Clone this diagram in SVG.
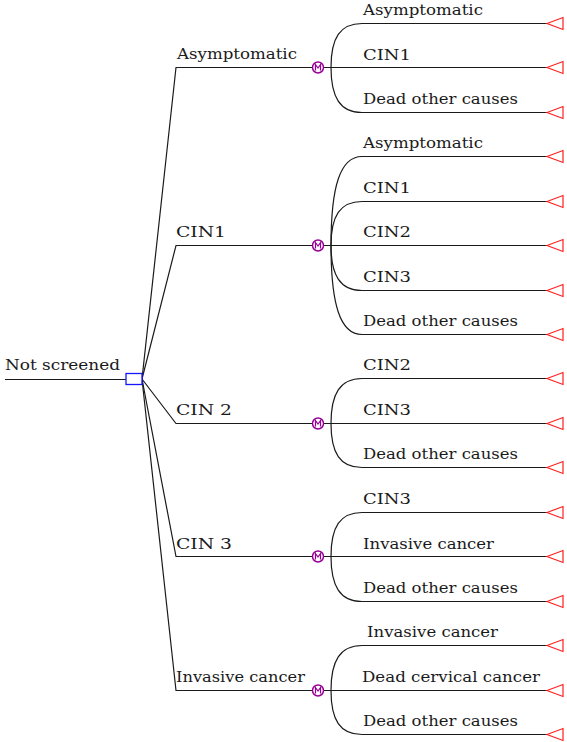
<svg xmlns="http://www.w3.org/2000/svg" width="567" height="742" viewBox="0 0 567 742">
<style>
.ln{fill:none;stroke:#1a1a1a;stroke-width:1.2}
.t{font-family:"DejaVu Serif","Liberation Serif",serif;font-size:15px;fill:#1a1a1a}
.term{fill:#fff;stroke:#ff2020;stroke-width:1.2}
.mk{fill:#fff;stroke:#990099;stroke-width:1.5}
.mki{fill:none;stroke:#990099;stroke-width:1.2}
.dec{fill:#fff;stroke:#1515ff;stroke-width:1.3}
</style>
<defs>
<g id="mnode"><circle class="mk" cx="0" cy="0" r="5.5"/><path class="mki" d="M-2.5,3 V-3 L0,0.5 L2.5,-3 V3"/></g>
<polygon id="tri" class="term" points="0,0 16,-6 16,6"/>
</defs>
<rect width="567" height="742" fill="#fff"/>
<g id="connectors">
<path class="ln" d="M5,379.5 H126"/>
<path class="ln" d="M142,379 L176,67.5 H312.5"/>
<path class="ln" d="M142,379 L176,245.5 H312.5"/>
<path class="ln" d="M142,379 L176,423.5 H312.5"/>
<path class="ln" d="M142,379 L176,556.5 H312.5"/>
<path class="ln" d="M142,379 L176,690.5 H312.5"/>
<!-- group 1 -->
<path class="ln" d="M323.5,67.5 H547"/>
<path class="ln" d="M331,67.5 C331,38 340,23.5 362,23.5 H547"/>
<path class="ln" d="M331,67.5 C331,97 340,112.5 362,112.5 H547"/>
<!-- group 2 -->
<path class="ln" d="M323.5,245.5 H547"/>
<path class="ln" d="M331,245.5 C331,187 340,156.5 362,156.5 H547"/>
<path class="ln" d="M331,245.5 C331,216 340,201.5 362,201.5 H547"/>
<path class="ln" d="M331,245.5 C331,275 340,290.5 362,290.5 H547"/>
<path class="ln" d="M331,245.5 C331,304 340,334.5 362,334.5 H547"/>
<!-- group 3 -->
<path class="ln" d="M323.5,423.5 H547"/>
<path class="ln" d="M331,423.5 C331,394 340,378.5 362,378.5 H547"/>
<path class="ln" d="M331,423.5 C331,453 340,467.5 362,467.5 H547"/>
<!-- group 4 -->
<path class="ln" d="M323.5,556.5 H547"/>
<path class="ln" d="M331,556.5 C331,527 340,512.5 362,512.5 H547"/>
<path class="ln" d="M331,556.5 C331,586 340,601.5 362,601.5 H547"/>
<!-- group 5 -->
<path class="ln" d="M323.5,690.5 H547"/>
<path class="ln" d="M331,690.5 C331,661 340,645.5 362,645.5 H547"/>
<path class="ln" d="M331,690.5 C331,720 340,734.5 362,734.5 H547"/>
</g>
<g id="root"><text class="t" x="5" y="370" textLength="115" lengthAdjust="spacingAndGlyphs">Not screened</text></g>
<g id="decision"><rect class="dec" x="126" y="373.5" width="16" height="11"/></g>
<g id="branch-asymptomatic"><text class="t" x="177" y="59" textLength="120" lengthAdjust="spacingAndGlyphs">Asymptomatic</text><use href="#mnode" x="318" y="67.5"/></g>
<g id="branch-cin1"><text class="t" x="176" y="237" textLength="50" lengthAdjust="spacingAndGlyphs">CIN1</text><use href="#mnode" x="318" y="245.5"/></g>
<g id="branch-cin2"><text class="t" x="176" y="415" textLength="56" lengthAdjust="spacingAndGlyphs">CIN 2</text><use href="#mnode" x="318" y="423.5"/></g>
<g id="branch-cin3"><text class="t" x="176" y="549" textLength="56" lengthAdjust="spacingAndGlyphs">CIN 3</text><use href="#mnode" x="318" y="556.5"/></g>
<g id="branch-invasive"><text class="t" x="176" y="682" textLength="129" lengthAdjust="spacingAndGlyphs">Invasive cancer</text><use href="#mnode" x="318" y="690.5"/></g>
<g id="outcomes">
<g id="o1"><text class="t" x="363" y="15" textLength="120" lengthAdjust="spacingAndGlyphs">Asymptomatic</text><use href="#tri" x="547" y="23.5"/></g>
<g id="o2"><text class="t" x="363" y="60" textLength="48" lengthAdjust="spacingAndGlyphs">CIN1</text><use href="#tri" x="547" y="67.5"/></g>
<g id="o3"><text class="t" x="363" y="104" textLength="155" lengthAdjust="spacingAndGlyphs">Dead other causes</text><use href="#tri" x="547" y="112.5"/></g>
<g id="o4"><text class="t" x="363" y="148" textLength="120" lengthAdjust="spacingAndGlyphs">Asymptomatic</text><use href="#tri" x="547" y="156.5"/></g>
<g id="o5"><text class="t" x="363" y="193" textLength="48" lengthAdjust="spacingAndGlyphs">CIN1</text><use href="#tri" x="547" y="201.5"/></g>
<g id="o6"><text class="t" x="363" y="237" textLength="48" lengthAdjust="spacingAndGlyphs">CIN2</text><use href="#tri" x="547" y="245.5"/></g>
<g id="o7"><text class="t" x="363" y="282" textLength="48" lengthAdjust="spacingAndGlyphs">CIN3</text><use href="#tri" x="547" y="290.5"/></g>
<g id="o8"><text class="t" x="363" y="326" textLength="155" lengthAdjust="spacingAndGlyphs">Dead other causes</text><use href="#tri" x="547" y="334.5"/></g>
<g id="o9"><text class="t" x="363" y="370" textLength="48" lengthAdjust="spacingAndGlyphs">CIN2</text><use href="#tri" x="547" y="378.5"/></g>
<g id="o10"><text class="t" x="363" y="415" textLength="48" lengthAdjust="spacingAndGlyphs">CIN3</text><use href="#tri" x="547" y="423.5"/></g>
<g id="o11"><text class="t" x="363" y="459" textLength="155" lengthAdjust="spacingAndGlyphs">Dead other causes</text><use href="#tri" x="547" y="467.5"/></g>
<g id="o12"><text class="t" x="363" y="504" textLength="48" lengthAdjust="spacingAndGlyphs">CIN3</text><use href="#tri" x="547" y="512.5"/></g>
<g id="o13"><text class="t" x="363" y="549" textLength="131" lengthAdjust="spacingAndGlyphs">Invasive cancer</text><use href="#tri" x="547" y="556.5"/></g>
<g id="o14"><text class="t" x="363" y="593" textLength="155" lengthAdjust="spacingAndGlyphs">Dead other causes</text><use href="#tri" x="547" y="601.5"/></g>
<g id="o15"><text class="t" x="367" y="637" textLength="131" lengthAdjust="spacingAndGlyphs">Invasive cancer</text><use href="#tri" x="547" y="645.5"/></g>
<g id="o16"><text class="t" x="362" y="682" textLength="178" lengthAdjust="spacingAndGlyphs">Dead cervical cancer</text><use href="#tri" x="547" y="690.5"/></g>
<g id="o17"><text class="t" x="363" y="726" textLength="155" lengthAdjust="spacingAndGlyphs">Dead other causes</text><use href="#tri" x="547" y="734.5"/></g>
</g>
</svg>
